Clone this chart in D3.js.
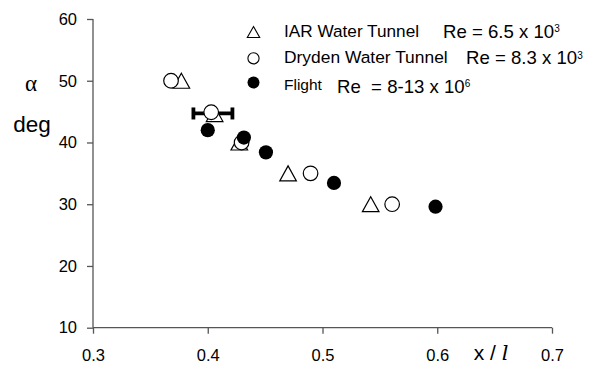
<!DOCTYPE html>
<html><head><meta charset="utf-8">
<script src="https://cdn.jsdelivr.net/npm/d3@7"></script>
<style>body{margin:0;background:#fff}svg{display:block}</style>
</head><body>
<svg id="c" width="598" height="365"></svg>
<script>
const xTicks = [0.3, 0.4, 0.5, 0.6, 0.7];
const yTicks = [10, 20, 30, 40, 50, 60];
const iarX = [0.377, 0.406, 0.4275, 0.470, 0.542];
const iarY = [50, 44.6, 40, 35, 30];
const drydenX = [0.368, 0.403, 0.4295, 0.4896, 0.5607];
const drydenY = [50, 44.9, 40, 35, 30];
const flightX = [0.400, 0.4315, 0.4507, 0.510, 0.5985];
const flightY = [42, 40.8, 38.4, 33.45, 29.6];
const errBar = {x0: 0.3875, x1: 0.4215, y: 44.7};
const legendNames = ["IAR Water Tunnel", "Dryden Water Tunnel", "Flight"];
const legendRe = [["Re = 6.5 x 10", "3"], ["Re = 8.3 x 10", "3"], ["Re  = 8-13 x 10", "6"]];

const svg = d3.select("#c");
const x = d3.scaleLinear().domain([0.3, 0.7]).range([93, 552]);
const y = d3.scaleLinear().domain([10, 60]).range([327.7, 19]);
const font = "'Liberation Sans', Arial, sans-serif";
const axisColor = "#555";

// axes
const gx = svg.append("g").attr("transform", `translate(0,${y(10)})`)
  .call(d3.axisBottom(x).tickValues(xTicks).tickSize(6).tickPadding(16).tickFormat(d3.format(".1f")));
const gy = svg.append("g").attr("transform", `translate(${x(0.3)},0)`)
  .call(d3.axisLeft(y).tickValues(yTicks).tickSize(6).tickPadding(10).tickFormat(d3.format("d")));
[gx, gy].forEach(g => {
  g.select(".domain").attr("stroke", axisColor).attr("stroke-width", 1.3);
  g.selectAll(".tick line").attr("stroke", axisColor).attr("stroke-width", 1.3);
  g.selectAll(".tick text").attr("font-family", font).attr("font-size", 16.5).attr("fill", "#000");
});
gx.select(".domain").attr("d", `M${x(0.3)},0H${x(0.7)}`);
gy.select(".domain").attr("d", `M0,${y(10)}V${y(60)}`);

// axis titles
svg.append("text").attr("x", 31).attr("y", 91).attr("text-anchor", "middle")
  .attr("font-family", "'Liberation Serif', 'DejaVu Serif', serif").attr("font-size", 23).text("α");
svg.append("text").attr("x", 32).attr("y", 132).attr("text-anchor", "middle")
  .attr("font-family", font).attr("font-size", 22.5).text("deg");
const xt = svg.append("text").attr("x", 491).attr("y", 360).attr("text-anchor", "middle")
  .attr("font-family", font).attr("font-size", 21);
xt.append("tspan").text("x / ");
xt.append("tspan").attr("font-family", "'DejaVu Serif', 'Liberation Serif', serif").attr("font-style", "italic").text("l");

const tri = "M0,-7.5L8.3,7.5L-8.3,7.5Z";
const triSmall = "M0,-5.5L6.2,5.5L-6.2,5.5Z";

// error bar
const eb = svg.append("g").attr("stroke", "#000").attr("stroke-width", 3.8);
eb.append("line").attr("x1", x(errBar.x0)).attr("x2", x(errBar.x1)).attr("y1", y(errBar.y)).attr("y2", y(errBar.y));
[errBar.x0, errBar.x1].forEach(v => eb.append("line").attr("x1", x(v)).attr("x2", x(v))
  .attr("y1", y(errBar.y) - 6).attr("y2", y(errBar.y) + 6));

// IAR triangles
svg.append("g").selectAll("path").data(iarX.map((d, i) => [d, iarY[i]])).join("path")
  .attr("d", tri).attr("transform", d => `translate(${x(d[0])},${y(d[1])})`)
  .attr("fill", "#fff").attr("stroke", "#000").attr("stroke-width", 1.2);
// Dryden open circles
svg.append("g").selectAll("circle").data(drydenX.map((d, i) => [d, drydenY[i]])).join("circle")
  .attr("cx", d => x(d[0])).attr("cy", d => y(d[1])).attr("r", 7.3)
  .attr("fill", "#fff").attr("stroke", "#000").attr("stroke-width", 1.2);
// Flight filled circles
svg.append("g").selectAll("circle").data(flightX.map((d, i) => [d, flightY[i]])).join("circle")
  .attr("cx", d => x(d[0])).attr("cy", d => y(d[1])).attr("r", 7.1).attr("fill", "#000");

// legend
const ly = [32, 58.3, 82.5];
const lg = svg.append("g");
lg.append("path").attr("d", triSmall).attr("transform", `translate(253.5,${ly[0]})`)
  .attr("fill", "#fff").attr("stroke", "#000").attr("stroke-width", 1.1);
lg.append("circle").attr("cx", 253.5).attr("cy", ly[1]).attr("r", 5.6)
  .attr("fill", "#fff").attr("stroke", "#000").attr("stroke-width", 1.1);
lg.append("circle").attr("cx", 253.5).attr("cy", ly[2]).attr("r", 6).attr("fill", "#000");
const nameBase = [36.7, 63.3, 89.5];
const nameSize = [17.2, 17.4, 15.5];
const reX = [443, 466, 337];
const reBase = [37.5, 64.2, 92.7];
legendNames.forEach((n, i) => {
  lg.append("text").attr("x", 284).attr("y", nameBase[i]).attr("font-family", font)
    .attr("font-size", nameSize[i]).text(n);
  const t = lg.append("text").attr("x", reX[i]).attr("y", reBase[i]).attr("font-family", font)
    .attr("font-size", 18.6).style("white-space", "pre");
  t.append("tspan").text(legendRe[i][0]);
  t.append("tspan").attr("font-size", 10).attr("dy", -5.5).text(legendRe[i][1]);
});
</script>
</body></html>
